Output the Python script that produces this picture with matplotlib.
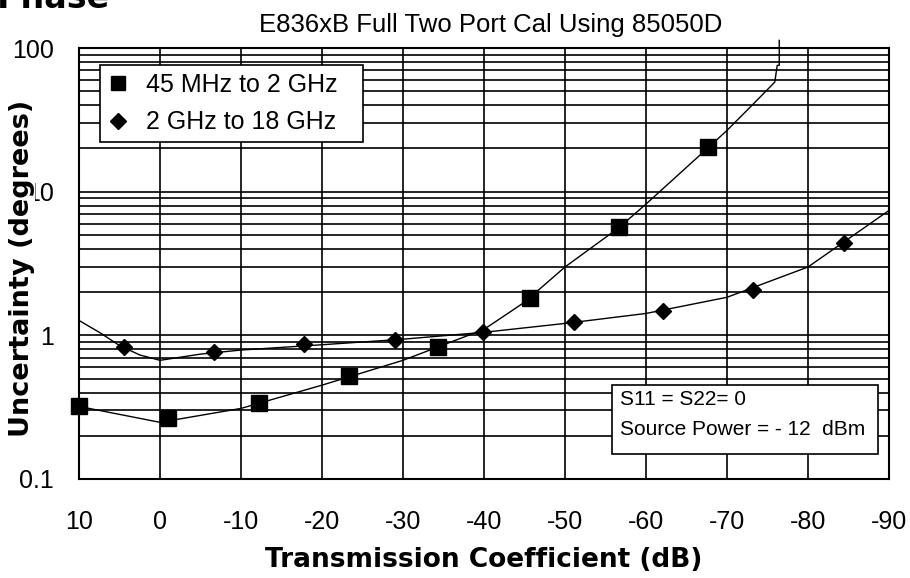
import matplotlib
matplotlib.use("Agg")
import matplotlib.pyplot as plt
from matplotlib.lines import Line2D
from matplotlib.patches import Rectangle
from matplotlib.ticker import LogLocator, NullFormatter

plt.rcParams['font.family'] = ['Liberation Sans', 'DejaVu Sans']

# 45 MHz to 2 GHz (squares)
low_curve_db = [10, 0, -10, -20, -30, -40, -45, -50, -56.7, -60, -67.7, -70, -73.2, -75.9, -76.2, -76.45, -76.45]
low_curve_unc = [0.32, 0.248, 0.31, 0.45, 0.67, 1.1, 1.7, 2.99, 5.64, 8.2, 20.3, 26.7, 40.5, 57.9, 75.7, 75.7, 113]
low_marker_db = [10, -1.0, -12.2, -23.3, -34.3, -45.7, -56.7, -67.7]
low_marker_unc = [0.32, 0.264, 0.336, 0.52, 0.83, 1.81, 5.64, 20.3]

# 2 GHz to 18 GHz (diamonds)
high_curve_db = [10, 7.5, 5, 2.5, 0, -5, -10, -20, -30, -40, -50, -60, -70, -80, -90]
high_curve_unc = [1.27, 1.05, 0.85, 0.73, 0.67, 0.74, 0.79, 0.86, 0.94, 1.05, 1.21, 1.42, 1.84, 2.99, 7.4]
high_marker_db = [4.4, -6.7, -17.8, -29.0, -39.9, -51.1, -62.1, -73.2, -84.4]
high_marker_unc = [0.83, 0.765, 0.865, 0.93, 1.05, 1.24, 1.47, 2.06, 4.37]

x_ticks = list(range(10, -91, -10))
y_ticks = [0.1, 1, 10, 100]
y_labels = ['0.1', '1', '10', '100']

W, H = 910, 578
fig = plt.figure(figsize=(W / 100, H / 100), dpi=100)
ax = fig.add_axes([79 / W, 1 - 479 / H, 810 / W, 431 / H])

ax.set_yscale('log')
ax.set_xlim(10, -90)
ax.set_ylim(0.1, 100)

ax.set_xticks(x_ticks)
ax.set_xticklabels([str(t) for t in x_ticks])
ax.set_yticks(y_ticks)
ax.set_yticklabels(y_labels)
ax.yaxis.set_minor_locator(LogLocator(base=10, subs=range(2, 10)))
ax.yaxis.set_minor_formatter(NullFormatter())
ax.tick_params(which='both', length=0, labelsize=18)
ax.tick_params(axis='x', pad=22)
ax.tick_params(axis='y', pad=18)

ax.grid(which='both', axis='y', color='black', lw=1.2)
ax.grid(which='major', axis='x', color='black', lw=1.2)
ax.set_axisbelow(True)
for sp in ax.spines.values():
    sp.set_linewidth(1.5)

# curves
ax.plot(low_curve_db, low_curve_unc, color='black', lw=1.0, clip_on=False, zorder=3)
ax.plot(high_curve_db, high_curve_unc, color='black', lw=1.0, zorder=3)

# markers
ax.plot(low_marker_db, low_marker_unc, ls='none', marker='s', ms=11, color='black', clip_on=False, zorder=4)
ax.plot(high_marker_db, high_marker_unc, ls='none', marker='D', ms=8, color='black', zorder=4)

handles = [
    Line2D([], [], ls='none', marker='s', ms=10, color='black'),
    Line2D([], [], ls='none', marker='D', ms=8, color='black'),
]
leg = ax.legend(handles, ['45 MHz to 2 GHz', '2 GHz to 18 GHz'],
                loc='upper left', bbox_to_anchor=(21 / 810, 0, 263 / 810, 414 / 431),
                mode='expand', borderaxespad=0, fontsize=18, borderpad=0.3,
                handlelength=0.8, handletextpad=0.75, labelspacing=0.55,
                fancybox=False, framealpha=1, edgecolor='black')
leg.get_frame().set_linewidth(1.2)
leg.set_zorder(5)

# info box
ax.add_patch(Rectangle((0.6584, 0.058), 0.3284, 0.160, transform=ax.transAxes,
                       facecolor='white', edgecolor='black', lw=1.2, zorder=5))
ax.text(0.668, 0.1856, 'S11 = S22= 0', transform=ax.transAxes, fontsize=15,
        va='center', ha='left', zorder=6)
ax.text(0.668, 0.1137, 'Source Power = - 12  dBm', transform=ax.transAxes, fontsize=15,
        va='center', ha='left', zorder=6)

# titles and labels
fig.text(491 / W, 1 - 32 / H, 'E836xB Full Two Port Cal Using 85050D',
         fontsize=18.5, ha='center', va='baseline')
fig.text(-3 / W, 1 - 8 / H, 'Phase', fontsize=24, fontweight='bold',
         family='DejaVu Sans', ha='left', va='baseline')
fig.text(484 / W, 1 - 560 / H, 'Transmission Coefficient (dB)', fontsize=19,
         fontweight='bold', family='DejaVu Sans', ha='center', va='center')
fig.text(22 / W, 1 - 268 / H, 'Uncertainty (degrees)', fontsize=19.5,
         fontweight='bold', family='DejaVu Sans', rotation=90,
         ha='center', va='center',
         bbox=dict(facecolor='white', edgecolor='none', pad=0))

fig.savefig('out.png', dpi=100)
